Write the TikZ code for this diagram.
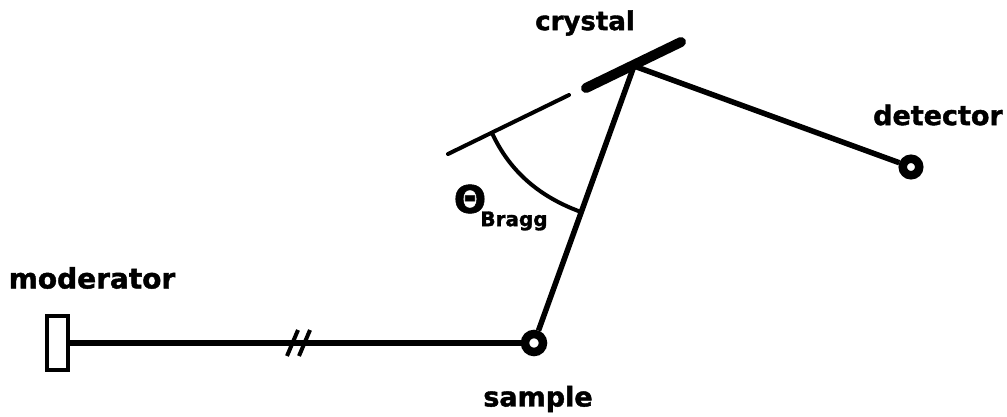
\documentclass[tikz,border=0pt]{standalone}
\usepackage{fontspec}
\setmainfont[BoldFeatures={FakeBold=1.5}]{DejaVu Sans}
\tikzset{
 lab/.style={inner sep=0pt,font=\fontsize{#1}{#1}\selectfont\bfseries},
 lab/.default=25,
 beam/.style={line width=5.5pt,black},
 thin part/.style={line width=4pt,line cap=round},
 thick part/.style={line width=10pt,line cap=round},
 spot/.style={circle,draw,line width=8.5pt,inner sep=0pt,fill=white},
 modbox/.style={rectangle,draw,line width=4pt,minimum width=21pt,minimum height=54pt,inner sep=0pt},
 arcline/.style={line width=4pt,line join=round}
}
\begin{document}
\begin{tikzpicture}[x=1pt,y=-1pt]
\useasboundingbox (0,0) rectangle (1007,416);
\fill[white] (0,0) rectangle (1007,416);
\coordinate (cryA) at (586,88);
\coordinate (cryB) at (681,42);
\coordinate (hit) at (634,66);
\coordinate (refA) at (448,154);
\coordinate (refB) at (569,95);
\coordinate (arcA) at (492,133);
\coordinate (arcB) at (581,212);
\node[modbox] (mod) at (57,343) {};
\node[spot,minimum size=18pt] (sample) at (534,343) {};
\node[spot,minimum size=16.5pt] (det) at (911,167) {};
\draw[beam] (mod.east) -- (sample.west);
\draw[beam] (sample) -- (hit);
\draw[beam] (hit) -- (det);
\draw[thick part] (cryA) -- (cryB);
\draw[thin part] (refA) -- (refB);
\draw[arcline] (arcA) .. controls (510,172) and (540,197) .. (arcB);
\draw[line width=4pt] (287,356) -- (298,330) (299,356) -- (310,330);
\node[lab=26] (crystal) at (585,23) {crystal};
\node[lab=27] (detector) at (938,115) {detector};
\node[lab=28] (moderator) at (92,278) {moderator};
\node[lab=27] (samplelab) at (538,399) {sample};
\node[lab=38] (theta) at (470,199) {Θ};
\node[lab=20] (bragg) at (514,221) {Bragg};
\end{tikzpicture}
\end{document}
